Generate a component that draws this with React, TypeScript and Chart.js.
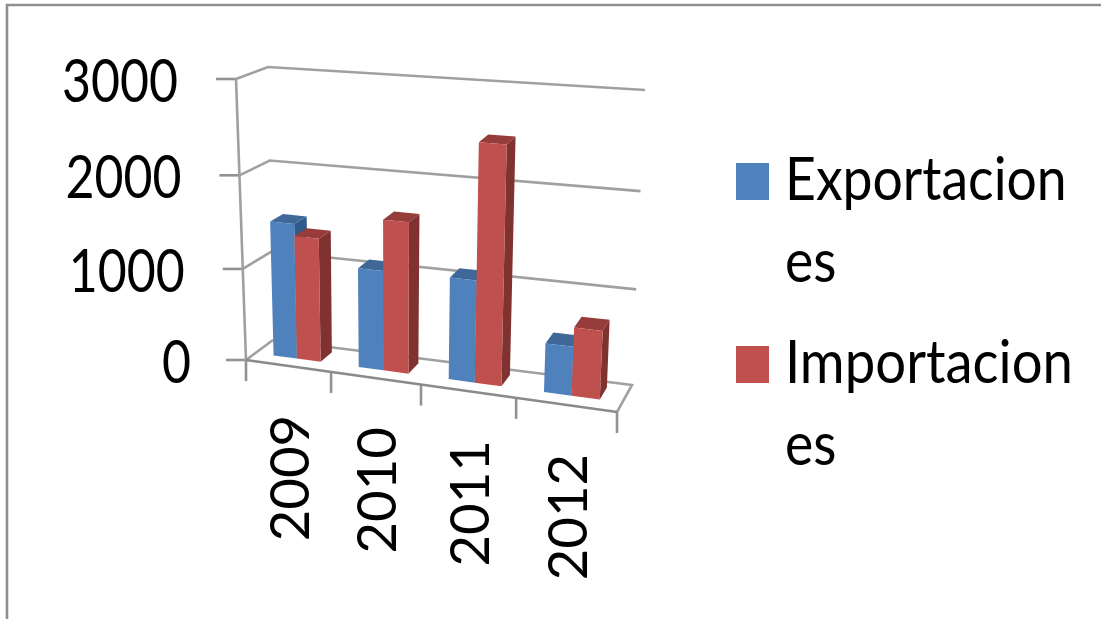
import React, { useEffect, useRef } from "react";
import { Chart, registerables } from "chart.js";

Chart.register(...registerables);

const categories = ["2009", "2010", "2011", "2012"];
const exportaciones = [1470, 1070, 1080, 510];
const importaciones = [1340, 1610, 2490, 710];
const yTicks = [0, 1000, 2000, 3000];
const legendLines = [["Exportacion", "es"], ["Importacion", "es"]];

const BLUE = "#4F81BD";
const RED = "#C0504D";
const GREY = "#929292";
const FONT = "Lato";

type Pt = [number, number];
const corners: Record<string, Pt> = {
  f0l: [246, 360], f0r: [617, 412], b0l: [273, 340], b0r: [632, 385],
  f1l: [236, 79], f1r: [631, 108], b1l: [268, 67], b1r: [645, 90],
};
const persp = (a: number, r: number) => a / (a + (1 - a) * r);
const mix = (a: Pt, b: Pt, k: number): Pt => [a[0] + (b[0] - a[0]) * k, a[1] + (b[1] - a[1]) * k];
function P(u: number, d: number, v: number): Pt {
  const t = persp(u, 1.12);
  const s = persp(v, 1.043);
  const c = corners;
  const f0 = mix(c.f0l, c.f0r, t), b0 = mix(c.b0l, c.b0r, t);
  const f1 = mix(c.f1l, c.f1r, t), b1 = mix(c.b1l, c.b1r, t);
  return mix(mix(f0, b0, d), mix(f1, b1, d), s);
}
function shade(ctx: CanvasRenderingContext2D, pts: Pt[], fill: string) {
  ctx.beginPath();
  pts.forEach((p, i) => (i ? ctx.lineTo(p[0], p[1]) : ctx.moveTo(p[0], p[1])));
  ctx.closePath();
  ctx.fillStyle = fill;
  ctx.fill();
}
function stroke(ctx: CanvasRenderingContext2D, pts: Pt[], color = GREY, w = 2.6) {
  ctx.beginPath();
  pts.forEach((p, i) => (i ? ctx.lineTo(p[0], p[1]) : ctx.moveTo(p[0], p[1])));
  ctx.strokeStyle = color;
  ctx.lineWidth = w;
  ctx.stroke();
}
function text(ctx: CanvasRenderingContext2D, s: string, x: number, y: number, align: CanvasTextAlign, sx: number, sy: number, rot = 0) {
  ctx.save();
  ctx.translate(x, y);
  if (rot) ctx.rotate(rot);
  ctx.scale(sx, sy);
  ctx.font = `50px ${FONT}`;
  ctx.fillStyle = "#000";
  ctx.textAlign = align;
  ctx.textBaseline = "alphabetic";
  ctx.fillText(s, 0, 0);
  ctx.restore();
}

const D0 = 0.35, D1 = 0.8;
const faces = [
  { front: BLUE, top: "#3F6797", side: "#2F5A8C" },
  { front: RED, top: "#963D3B", side: "#7F3230" },
];

const scenePlugin = {
  id: "scene3d",
  beforeDatasetsDraw(chart: any) {
    const ctx: CanvasRenderingContext2D = chart.ctx;
    const { x, y } = chart.scales;
    const area = chart.chartArea;
    const uOf = (px: number) => (px - area.left) / (area.right - area.left);
    const vOf = (py: number) => (area.bottom - py) / (area.bottom - area.top);

    ctx.save();
    stroke(ctx, [[7, 619], [7, 5], [1101, 5]], "#8f8f8f", 2.6);

    y.ticks.forEach((tk: any) => {
      const v = vOf(y.getPixelForValue(tk.value));
      const a = P(0, 0, v);
      stroke(ctx, [[a[0] - 20, a[1]], a]);
      if (v > 0) stroke(ctx, [a, P(0, 1, v), P(1, 1, v)], "#a0a0a0");
      text(ctx, String(tk.value), a[0] - 58 + (v === 0 ? 3 : 0), a[1] + 23, "right", 1, 1.2);
    });
    stroke(ctx, [P(0, 0, 0), P(0, 0, 1)], "#a0a0a0");
    stroke(ctx, [P(0, 1, 0), P(1, 1, 0), P(1, 0, 0)], "#a0a0a0");
    stroke(ctx, [P(0, 0, 0), P(0, 1, 0)], "#a0a0a0");

    const n = categories.length;
    for (let i = 0; i <= n; i++) {
      const p = P(i / n, 0, 0);
      stroke(ctx, [p, [p[0], p[1] + 21]]);
    }
    stroke(ctx, [P(0, 0, 0), P(1, 0, 0)], "#8a8a8a");

    for (let i = 0; i < n; i++) {
      chart.data.datasets.forEach((_: any, di: number) => {
        const bar = chart.getDatasetMeta(di).data[i];
        const u0 = uOf(bar.x - bar.width / 2), u1 = uOf(bar.x + bar.width / 2);
        const v = vOf(bar.y);
        const f = faces[di];
        shade(ctx, [P(u0, D0, v), P(u1, D0, v), P(u1, D1, v), P(u0, D1, v)], f.top);
        shade(ctx, [P(u1, D0, 0), P(u1, D1, 0), P(u1, D1, v), P(u1, D0, v)], f.side);
        shade(ctx, [P(u0, D0, 0), P(u1, D0, 0), P(u1, D0, v), P(u0, D0, v)], f.front);
      });
    }

    x.ticks.forEach((tk: any, i: number) => {
      const u = uOf(x.getPixelForTick(i));
      const p = P(u, 0, 0);
      text(ctx, String(tk.label), p[0] + 21, p[1] + 49, "right", 1.09, 1.08, -Math.PI / 2);
    });

    const sw = [{ y: 163, c: BLUE, k: 1.07 }, { y: 346, c: RED, k: 1.09 }];
    sw.forEach((s, i) => {
      ctx.fillStyle = s.c;
      ctx.fillRect(736, s.y, 33, 37);
      text(ctx, legendLines[i][0], 785, s.y + 37, "left", s.k, 1.2);
      text(ctx, legendLines[i][1], 785, s.y + 119, "left", 1.07, 1.2);
    });
    ctx.restore();
    return false;
  },
};

export default function App() {
  const ref = useRef<HTMLCanvasElement>(null);
  useEffect(() => {
    const chart = new Chart(ref.current as HTMLCanvasElement, {
      type: "bar",
      data: {
        labels: categories,
        datasets: [
          { label: "Exportaciones", data: exportaciones, backgroundColor: BLUE, categoryPercentage: 0.56, barPercentage: 1 },
          { label: "Importaciones", data: importaciones, backgroundColor: RED, categoryPercentage: 0.56, barPercentage: 1 },
        ],
      },
      options: {
        responsive: false,
        animation: false,
        devicePixelRatio: 1,
        layout: { padding: { left: 246, right: 484, top: 79, bottom: 259 } },
        plugins: { legend: { display: false }, tooltip: { enabled: false }, title: { display: false } },
        scales: {
          x: { display: false, grid: { display: false } },
          y: {
            display: false,
            min: yTicks[0],
            max: yTicks[yTicks.length - 1],
            afterBuildTicks: (s: any) => { s.ticks = yTicks.map((value) => ({ value })); },
          },
        },
      },
      plugins: [scenePlugin],
    } as any);
    return () => chart.destroy();
  }, []);
  return (
    <canvas
      ref={ref}
      width={1101}
      height={619}
      style={{ position: "absolute", left: 0, top: 0, display: "block", background: "#fff", filter: "blur(0.6px)" }}
    />
  );
}
